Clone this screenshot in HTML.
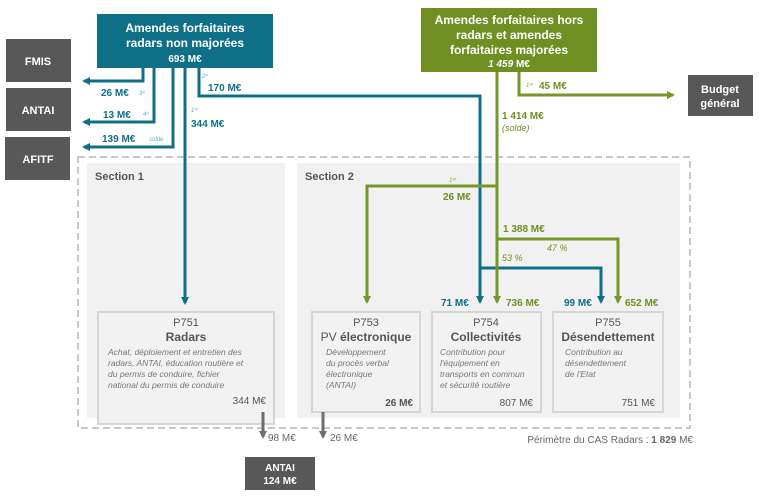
<!DOCTYPE html>
<html><head><meta charset="utf-8"><style>
html,body{margin:0;padding:0;background:#fff;width:759px;height:498px;overflow:hidden}
svg{display:block;font-family:"Liberation Sans",Arial,sans-serif}
</style></head><body>
<svg width="759" height="498" viewBox="0 0 759 498" xmlns="http://www.w3.org/2000/svg">
<defs>
<marker id="aT" markerWidth="8" markerHeight="8" refX="6" refY="4" orient="auto" markerUnits="userSpaceOnUse"><path d="M0,0 L8,4 L0,8 Z" fill="#0e6f87"/></marker>
<marker id="aG" markerWidth="8" markerHeight="8" refX="6" refY="4" orient="auto" markerUnits="userSpaceOnUse"><path d="M0,0 L8,4 L0,8 Z" fill="#76962a"/></marker>
<marker id="aD" markerWidth="8" markerHeight="8" refX="6" refY="4" orient="auto" markerUnits="userSpaceOnUse"><path d="M0,0 L8,4 L0,8 Z" fill="#6e6e6e"/></marker>
</defs>
<!-- perimeter -->
<rect x="78" y="157" width="612" height="271" fill="none" stroke="#c8c8c8" stroke-width="2" stroke-dasharray="7,4"/>
<rect x="87" y="163" width="198" height="255" fill="#f1f1f1"/>
<rect x="297" y="163" width="383" height="255" fill="#f1f1f1"/>
<text x="95" y="180" font-size="11" font-weight="bold" fill="#555">Section 1</text>
<text x="305" y="180" font-size="11" font-weight="bold" fill="#555">Section 2</text>

<!-- program boxes -->
<g fill="#f2f2f2" stroke="#d6d6d6" stroke-width="2">
<rect x="98" y="312" width="176" height="112"/>
<rect x="312" y="312" width="108" height="100"/>
<rect x="432" y="312" width="109" height="100"/>
<rect x="553" y="312" width="110" height="100"/>
</g>
<g font-size="11" fill="#555" text-anchor="middle">
<text x="186" y="326">P751</text>
<text x="186" y="341" font-weight="bold" font-size="12">Radars</text>
<text x="366" y="326">P753</text>
<text x="366" y="341" font-size="12">PV <tspan font-weight="bold">électronique</tspan></text>
<text x="486" y="326">P754</text>
<text x="486" y="341" font-weight="bold" font-size="12">Collectivités</text>
<text x="608" y="326">P755</text>
<text x="608" y="341" font-weight="bold" font-size="12">Désendettement</text>
</g>
<g font-size="8.5" font-style="italic" fill="#777">
<text x="108" y="355">Achat, déploiement et entretien des</text>
<text x="108" y="366">radars, ANTAI, éducation routière et</text>
<text x="108" y="377">du  permis  de  conduire,  fichier</text>
<text x="108" y="388">national du permis de conduire</text>
<text x="326" y="355">Développement</text>
<text x="326" y="366">du procès verbal</text>
<text x="326" y="377">électronique</text>
<text x="326" y="388">(ANTAI)</text>
<text x="440" y="355">Contribution pour</text>
<text x="440" y="366">l'équipement en</text>
<text x="440" y="377">transports en commun</text>
<text x="440" y="388">et sécurité routière</text>
<text x="565" y="355">Contribution au</text>
<text x="565" y="366">désendettement</text>
<text x="565" y="377">de l'Etat</text>
</g>
<g font-size="10" fill="#555" text-anchor="end">
<text x="266" y="404">344 M€</text>
<text x="413" y="406" font-weight="bold">26 M€</text>
<text x="533" y="406">807 M€</text>
<text x="655" y="406">751 M€</text>
</g>

<!-- top boxes -->
<rect x="97" y="14" width="176" height="54" fill="#0e6f87"/>
<g fill="#fff" font-weight="bold" text-anchor="middle">
<text x="185" y="32" font-size="12">Amendes forfaitaires</text>
<text x="185" y="47" font-size="12">radars non majorées</text>
<text x="185" y="62" font-size="10">693 M€</text>
</g>
<rect x="421" y="8" width="176" height="64" fill="#6f8f22"/>
<g fill="#fff" font-weight="bold" text-anchor="middle">
<text x="509" y="24" font-size="12">Amendes forfaitaires hors</text>
<text x="509" y="39" font-size="12">radars et amendes</text>
<text x="509" y="54" font-size="12">forfaitaires majorées</text>
<text x="509" y="67" font-size="10"><tspan font-style="italic">1 459</tspan> M€</text>
</g>

<!-- gray boxes -->
<g fill="#585858">
<rect x="6" y="39" width="65" height="43"/>
<rect x="6" y="88" width="65" height="43"/>
<rect x="5" y="137" width="65" height="43"/>
<rect x="688" y="75" width="65" height="41"/>
<rect x="245" y="457" width="70" height="33"/>
</g>
<g fill="#fff" font-weight="bold" font-size="11" text-anchor="middle">
<text x="38" y="65">FMIS</text>
<text x="38" y="114">ANTAI</text>
<text x="38" y="163">AFITF</text>
<text x="720" y="93">Budget</text>
<text x="720" y="107">général</text>
<text x="280" y="471" font-size="10">ANTAI</text>
<text x="280" y="484" font-size="10">124 M€</text>
</g>

<!-- teal connectors -->
<g fill="none" stroke="#0e6f87" stroke-width="3">
<path d="M143,68 V81 H84" marker-end="url(#aT)"/>
<path d="M154,68 V122 H84" marker-end="url(#aT)"/>
<path d="M173,68 V147 H84" marker-end="url(#aT)"/>
<path d="M185,68 V303" marker-end="url(#aT)"/>
<path d="M199,68 V96 H480 V302" marker-end="url(#aT)"/>
<path d="M480,268 H601 V302" marker-end="url(#aT)"/>
</g>
<!-- green connectors -->
<g fill="none" stroke="#76962a" stroke-width="3">
<path d="M497,72 V302" marker-end="url(#aG)"/>
<path d="M519,72 V95 H673" marker-end="url(#aG)"/>
<path d="M497,186 H367 V302" marker-end="url(#aG)"/>
<path d="M497,239 H618 V302" marker-end="url(#aG)"/>
</g>
<!-- gray connectors -->
<g fill="none" stroke="#6e6e6e" stroke-width="3">
<path d="M263,412 V437" marker-end="url(#aD)"/>
<path d="M323,412 V437" marker-end="url(#aD)"/>
</g>

<!-- labels teal -->
<g font-size="10" font-weight="bold" fill="#0e6f87">
<text x="101" y="96">26 M€</text>
<text x="103" y="118">13 M€</text>
<text x="102" y="142">139 M€</text>
<text x="208" y="91">170 M€</text>
<text x="191" y="127">344 M€</text>
<text x="441" y="306">71 M€</text>
<text x="564" y="306">99 M€</text>
</g>
<g font-size="6" font-style="italic" fill="#5fb0c6">
<text x="139" y="95">3ᵉ</text>
<text x="143" y="116">4ᵉ</text>
<text x="149" y="141">solde</text>
<text x="202" y="78">2ᵉ</text>
<text x="191" y="112">1ᵉʳ</text>
</g>
<!-- labels green -->
<g font-size="10" font-weight="bold" fill="#6f8f22">
<text x="539" y="89">45 M€</text>
<text x="502" y="119">1 414 M€</text>
<text x="443" y="200">26 M€</text>
<text x="503" y="232">1 388 M€</text>
<text x="506" y="306">736 M€</text>
<text x="625" y="306">652 M€</text>
</g>
<g font-size="9" font-style="italic" fill="#6f8f22">
<text x="502" y="131">(solde)</text>
<text x="547" y="251">47 %</text>
<text x="502" y="261">53 %</text>
</g>
<g font-size="6" font-style="italic" fill="#8aa83c">
<text x="526" y="87">1ᵉʳ</text>
<text x="449" y="182">1ᵉʳ</text>
</g>
<g font-size="10" fill="#666">
<text x="268" y="441">98 M€</text>
<text x="330" y="441">26 M€</text>
<text x="693" y="443" text-anchor="end">Périmètre du CAS  Radars : <tspan font-weight="bold">1 829</tspan> M€</text>
</g>
</svg>
</body></html>
